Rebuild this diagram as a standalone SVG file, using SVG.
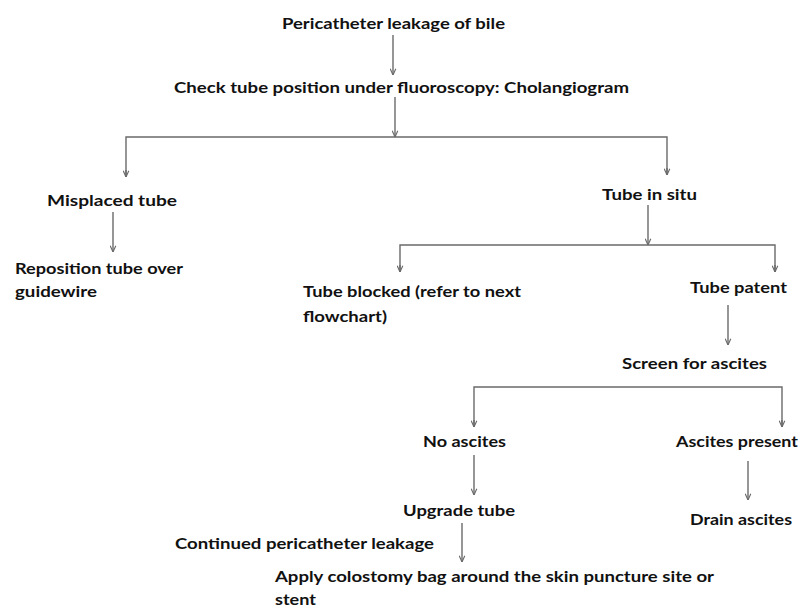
<svg xmlns="http://www.w3.org/2000/svg" width="800" height="608" viewBox="0 0 800 608">
  <style>
    text { font-family: "Lato", "Open Sans", "Liberation Sans", sans-serif; font-weight: bold; font-size: 16px; fill: #111111; }
    .c { stroke: #6a6a6a; stroke-width: 1.4; fill: none; }
    .a { stroke: #6a6a6a; stroke-width: 1.4; fill: none; marker-end: url(#arr); }
  </style>
  <defs>
    <marker id="arr" viewBox="0 0 10 10" refX="10" refY="5" markerWidth="7" markerHeight="7" markerUnits="userSpaceOnUse" orient="auto">
      <path d="M1,1 L10,5 L1,9" fill="none" stroke="#6a6a6a" stroke-width="1.6"/>
    </marker>
  </defs>
  <rect width="800" height="608" fill="#ffffff"/>

  <g id="connectors">
    <line class="a" x1="393" y1="35" x2="393" y2="75"/>
    <line class="a" x1="395" y1="97" x2="395" y2="137"/>
    <polyline class="c" points="126,177 126,137 667,137 667,175"/>
    <line class="a" x1="126" y1="170" x2="126" y2="177"/>
    <line class="a" x1="667" y1="168" x2="667" y2="175"/>
    <line class="a" x1="113" y1="212" x2="113" y2="252"/>
    <line class="a" x1="648" y1="205" x2="648" y2="245"/>
    <polyline class="c" points="400,272 400,245 775,245 775,272"/>
    <line class="a" x1="400" y1="265" x2="400" y2="272"/>
    <line class="a" x1="775" y1="265" x2="775" y2="272"/>
    <line class="a" x1="728" y1="305" x2="728" y2="345"/>
    <polyline class="c" points="474,427 474,387 782,387 782,427"/>
    <line class="a" x1="474" y1="420" x2="474" y2="427"/>
    <line class="a" x1="782" y1="420" x2="782" y2="427"/>
    <line class="a" x1="474" y1="455" x2="474" y2="495"/>
    <line class="a" x1="748" y1="461" x2="748" y2="500"/>
    <line class="a" x1="462" y1="523" x2="462" y2="562"/>
  </g>

  <g id="n-leak"><text x="282" y="29" textLength="223" lengthAdjust="spacingAndGlyphs">Pericatheter leakage of bile</text></g>
  <g id="n-check"><text x="174" y="93" textLength="455" lengthAdjust="spacingAndGlyphs">Check tube position under fluoroscopy: Cholangiogram</text></g>
  <g id="n-misplaced"><text x="47" y="206" textLength="130" lengthAdjust="spacingAndGlyphs">Misplaced  tube</text></g>
  <g id="n-insitu"><text x="602" y="200" textLength="95" lengthAdjust="spacingAndGlyphs">Tube in situ</text></g>
  <g id="n-reposition">
    <text x="15" y="274" textLength="168" lengthAdjust="spacingAndGlyphs">Reposition tube over</text>
    <text x="15" y="297" textLength="82" lengthAdjust="spacingAndGlyphs">guidewire</text>
  </g>
  <g id="n-blocked">
    <text x="303" y="297" textLength="218" lengthAdjust="spacingAndGlyphs">Tube blocked (refer to next</text>
    <text x="303" y="322" textLength="84" lengthAdjust="spacingAndGlyphs">flowchart)</text>
  </g>
  <g id="n-patent"><text x="690" y="293" textLength="97" lengthAdjust="spacingAndGlyphs">Tube patent</text></g>
  <g id="n-screen"><text x="622" y="369" textLength="145" lengthAdjust="spacingAndGlyphs">Screen for ascites</text></g>
  <g id="n-noascites"><text x="423" y="447" textLength="83" lengthAdjust="spacingAndGlyphs">No ascites</text></g>
  <g id="n-ascites"><text x="676" y="447" textLength="122" lengthAdjust="spacingAndGlyphs">Ascites present</text></g>
  <g id="n-upgrade"><text x="403" y="516" textLength="112" lengthAdjust="spacingAndGlyphs">Upgrade tube</text></g>
  <g id="n-drain"><text x="690" y="525" textLength="102" lengthAdjust="spacingAndGlyphs">Drain ascites</text></g>
  <g id="n-continued"><text x="175" y="549" textLength="259" lengthAdjust="spacingAndGlyphs">Continued pericatheter leakage</text></g>
  <g id="n-apply">
    <text x="275" y="582" textLength="439" lengthAdjust="spacingAndGlyphs">Apply colostomy bag around the skin puncture site or</text>
    <text x="275" y="605" textLength="41" lengthAdjust="spacingAndGlyphs">stent</text>
  </g>
</svg>
